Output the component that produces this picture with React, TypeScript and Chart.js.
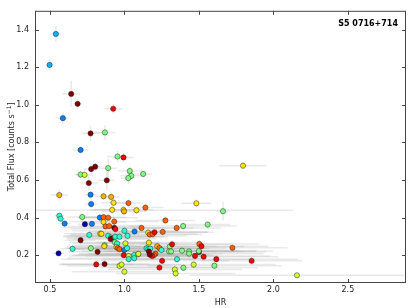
import React, { useEffect, useRef } from 'react';
import { Chart, registerables } from 'chart.js';
Chart.register(...registerables);

// hardness ratio, total flux, symmetric errors, and colour value (jet colormap 0..1)
const HR = [0.54,0.498,0.643,0.686,0.925,0.587,0.773,0.869,0.706,0.954,0.994,0.804,0.777,0.891,0.706,0.733,0.761,0.882,1.036,1.046,1.026,1.126,1.796,0.563,0.773,0.777,0.86,0.911,0.927,1.027,0.563,0.572,0.599,0.717,0.735,0.782,0.835,0.86,0.891,0.86,0.873,0.898,0.918,0.932,0.932,0.94,0.994,0.998,1.0,1.081,1.068,1.021,0.706,0.764,0.838,0.846,0.891,0.91,0.907,0.915,0.938,0.967,0.936,0.951,1.007,0.867,0.865,0.947,0.955,0.967,0.999,1.018,0.558,0.652,0.775,0.82,0.996,1.029,1.029,1.066,1.066,1.092,0.811,0.867,0.967,0.981,1.0,1.141,1.483,1.662,1.275,1.115,1.257,1.351,1.394,1.559,1.16,1.17,1.19,1.202,1.164,1.148,1.16,1.173,1.164,1.22,1.235,1.249,1.304,1.32,1.209,1.198,1.186,1.17,1.3,1.313,1.387,1.434,1.434,1.474,1.501,1.499,1.503,1.517,1.532,1.617,1.604,1.353,1.465,1.396,1.253,1.235,1.338,1.344,1.725,1.854,2.158,1.094];
const FLUX = [1.377,1.212,1.058,1.005,0.979,0.929,0.848,0.853,0.76,0.725,0.72,0.671,0.658,0.663,0.629,0.627,0.584,0.598,0.648,0.622,0.61,0.632,0.676,0.52,0.522,0.472,0.513,0.51,0.479,0.477,0.41,0.394,0.368,0.403,0.365,0.367,0.4,0.402,0.399,0.376,0.353,0.355,0.441,0.379,0.346,0.339,0.441,0.433,0.33,0.439,0.326,0.303,0.28,0.308,0.314,0.314,0.303,0.294,0.286,0.288,0.298,0.298,0.269,0.262,0.263,0.253,0.248,0.243,0.238,0.232,0.227,0.237,0.21,0.234,0.237,0.218,0.2,0.195,0.179,0.201,0.184,0.205,0.151,0.153,0.143,0.15,0.112,0.453,0.476,0.434,0.385,0.345,0.324,0.345,0.355,0.363,0.32,0.31,0.312,0.322,0.267,0.237,0.233,0.235,0.22,0.248,0.238,0.227,0.246,0.258,0.208,0.2,0.196,0.203,0.22,0.22,0.224,0.22,0.208,0.196,0.217,0.222,0.26,0.248,0.192,0.179,0.144,0.179,0.15,0.133,0.17,0.134,0.124,0.103,0.239,0.17,0.093,0.207];
const HR_ERR = [0.035,0.025,0.06,0.03,0.06,0.04,0.06,0.07,0.05,0.07,0.07,0.04,0.04,0.06,0.04,0.06,0.06,0.05,0.08,0.07,0.05,0.06,0.16,0.06,0.04,0.04,0.06,0.06,0.08,0.1,0.03,0.03,0.04,0.1,0.05,0.06,0.1,0.15,0.2,0.15,0.25,0.2,0.15,0.3,0.35,0.3,0.2,0.15,0.35,1.05,0.3,0.4,0.1,0.12,0.2,0.25,0.3,0.3,0.25,0.3,0.35,0.3,0.3,0.25,0.35,0.2,0.25,0.3,0.35,0.3,0.35,0.4,0.04,0.08,0.15,0.2,0.35,0.4,0.45,0.4,0.45,0.4,0.25,0.3,0.35,0.4,0.35,0.12,0.1,0.04,0.2,0.35,0.3,0.3,0.36,0.15,0.4,0.35,0.3,0.4,0.35,0.4,0.35,0.4,0.45,0.4,0.45,0.45,0.5,0.4,0.45,0.4,0.45,0.4,0.5,0.45,0.5,0.45,0.5,0.5,0.45,0.5,0.4,0.45,0.5,0.55,0.45,0.5,0.55,0.5,0.45,0.4,0.45,0.4,0.37,0.34,0.72,0.4];
const FLUX_ERR = [0.04,0.03,0.07,0.025,0.025,0.03,0.04,0.04,0.02,0.03,0.025,0.02,0.03,0.05,0.02,0.03,0.04,0.05,0.02,0.02,0.03,0.02,0.02,0.03,0.02,0.02,0.02,0.02,0.02,0.02,0.015,0.015,0.015,0.02,0.015,0.015,0.02,0.02,0.02,0.02,0.02,0.02,0.02,0.02,0.02,0.02,0.02,0.02,0.02,0.02,0.02,0.02,0.02,0.02,0.02,0.02,0.02,0.02,0.02,0.02,0.02,0.02,0.02,0.02,0.02,0.02,0.02,0.02,0.02,0.02,0.02,0.02,0.015,0.015,0.02,0.02,0.02,0.02,0.02,0.02,0.02,0.02,0.02,0.02,0.02,0.02,0.02,0.02,0.02,0.05,0.02,0.02,0.02,0.02,0.02,0.02,0.02,0.02,0.02,0.02,0.02,0.02,0.02,0.02,0.02,0.02,0.02,0.02,0.02,0.02,0.02,0.02,0.02,0.02,0.02,0.02,0.02,0.02,0.02,0.02,0.02,0.02,0.02,0.02,0.02,0.02,0.02,0.02,0.02,0.02,0.02,0.02,0.02,0.02,0.02,0.02,0.01,0.02];
const COLOR_VALUE = [0.3,0.3,1,1,0.88,0.25,1,0.5,0.25,0.5,0.88,1,1,0.5,0.5,0.58,1,1,0.5,0.5,0.5,0.5,0.65,0.7,0.25,0.25,0.7,0.7,0.65,0.78,0.42,0.42,0.25,0.5,0.05,0.25,0.25,0.78,0.78,0.65,0.78,0.78,0.65,0.78,1,0.88,0.65,0.7,0.42,0.65,0.25,0.42,1,0.42,0.65,0.65,0.42,0.5,0.88,1,0.42,0.42,0.5,0.42,0.58,0.5,0.65,0.65,0.78,0.78,0.25,0.42,0.05,0.42,0.5,1,0.88,0.58,0.42,0.42,0.42,0.58,0.88,1,0.58,0.58,0.58,0.78,0.65,0.5,0.78,0.78,0.78,0.78,0.5,0.5,0.65,0.78,0.78,0.88,0.65,0.42,0.42,0.42,1,0.7,0.78,0.42,0.5,0.88,0.78,0.78,0.88,1,0.5,0.5,0.5,0.5,0.5,0.88,1,0.5,0.78,0.88,0.88,0.88,0.5,0.42,0.58,0.5,0.88,0.88,0.58,0.58,0.78,0.88,0.58,0.58];

const X_TICKS = [0.5, 1.0, 1.5, 2.0, 2.5];
const Y_TICKS = [0.2, 0.4, 0.6, 0.8, 1.0, 1.2, 1.4];
const X_RANGE = [0.4, 2.89];
const Y_RANGE = [0.052, 1.5];
const TITLE = 'S5 0716+714';
const X_LABEL = 'HR';
const Y_LABEL = 'Total Flux [counts s';
const Y_LABEL_SUP = '\u22121';
const Y_LABEL_END = ']';

function jet(v: number): string {
  const clip = (t: number) => Math.max(0, Math.min(1, t));
  const r = clip(1.5 - Math.abs(4 * v - 3));
  const g = clip(1.5 - Math.abs(4 * v - 2));
  const b = clip(1.5 - Math.abs(4 * v - 1));
  return `rgb(${Math.round(r * 255)},${Math.round(g * 255)},${Math.round(b * 255)})`;
}

const FONT = '"DejaVu Sans", sans-serif';

export default function App() {
  const ref = useRef<HTMLCanvasElement>(null);
  useEffect(() => {
    document.body.style.margin = '0';
    const canvas = ref.current!;
    const errorBars = {
      id: 'errorBars',
      beforeDatasetsDraw(chart: any) {
        const { ctx, chartArea, scales } = chart;
        const xs = scales.x, ys = scales.y;
        ctx.save();
        ctx.beginPath();
        ctx.rect(chartArea.left, chartArea.top, chartArea.right - chartArea.left, chartArea.bottom - chartArea.top);
        ctx.clip();
        ctx.strokeStyle = 'rgba(170,170,170,0.26)';
        ctx.lineWidth = 1.5;
        for (let i = 0; i < HR.length; i++) {
          const px = xs.getPixelForValue(HR[i]);
          const py = ys.getPixelForValue(FLUX[i]);
          ctx.beginPath();
          ctx.moveTo(xs.getPixelForValue(HR[i] - HR_ERR[i]), py);
          ctx.lineTo(xs.getPixelForValue(HR[i] + HR_ERR[i]), py);
          ctx.moveTo(px, ys.getPixelForValue(FLUX[i] - FLUX_ERR[i]));
          ctx.lineTo(px, ys.getPixelForValue(FLUX[i] + FLUX_ERR[i]));
          ctx.stroke();
        }
        ctx.restore();
      },
    };
    const frame = {
      id: 'frame',
      afterDraw(chart: any) {
        const { ctx, chartArea, scales } = chart;
        const { left, right, top, bottom } = chartArea;
        ctx.save();
        ctx.strokeStyle = '#444';
        ctx.lineWidth = 1;
        ctx.strokeRect(left + 0.5, top + 0.5, right - left - 1, bottom - top - 1);
        ctx.beginPath();
        for (const v of X_TICKS) {
          const x = Math.round(scales.x.getPixelForValue(v)) + 0.5;
          ctx.moveTo(x, bottom); ctx.lineTo(x, bottom - 4);
          ctx.moveTo(x, top); ctx.lineTo(x, top + 4);
        }
        for (const v of Y_TICKS) {
          const y = Math.round(scales.y.getPixelForValue(v)) + 0.5;
          ctx.moveTo(left, y); ctx.lineTo(left + 4, y);
          ctx.moveTo(right, y); ctx.lineTo(right - 4, y);
        }
        ctx.stroke();
        // title in top-right
        ctx.fillStyle = '#000';
        ctx.font = `bold 8px ${FONT}`;
        ctx.textAlign = 'right';
        ctx.textBaseline = 'alphabetic';
        ctx.fillText(TITLE, right - 8, top + 15);
        // x label
        ctx.font = `8px ${FONT}`;
        ctx.textAlign = 'center';
        ctx.fillStyle = '#222';
        ctx.fillText(X_LABEL, (left + right) / 2, 305);
        // y label rotated
        ctx.translate(14, (top + bottom) / 2);
        ctx.rotate(-Math.PI / 2);
        ctx.textAlign = 'left';
        const w1 = ctx.measureText(Y_LABEL).width;
        ctx.font = `6px ${FONT}`;
        const w2 = ctx.measureText(Y_LABEL_SUP).width;
        ctx.font = `8px ${FONT}`;
        const w3 = ctx.measureText(Y_LABEL_END).width;
        const start = -(w1 + w2 + w3) / 2;
        ctx.fillText(Y_LABEL, start, 0);
        ctx.font = `6px ${FONT}`;
        ctx.fillText(Y_LABEL_SUP, start + w1, -3.5);
        ctx.font = `8px ${FONT}`;
        ctx.fillText(Y_LABEL_END, start + w1 + w2, 0);
        ctx.restore();
      },
    };
    const chart = new Chart(canvas, {
      type: 'scatter',
      data: {
        datasets: [
          {
            data: HR.map((x, i) => ({ x, y: FLUX[i] })),
            pointBackgroundColor: COLOR_VALUE.map(jet),
            pointBorderColor: 'rgba(30,30,30,0.8)',
            pointBorderWidth: 0.6,
            pointRadius: 2.6,
            pointHoverRadius: 2.6,
          },
        ],
      },
      options: {
        responsive: false,
        animation: false,
        events: [],
        layout: { padding: { top: 3, right: 5, left: 0, bottom: 0 } },
        plugins: { legend: { display: false }, tooltip: { enabled: false } },
        scales: {
          x: {
            type: 'linear',
            min: X_RANGE[0],
            max: X_RANGE[1],
            grid: { display: false, drawTicks: false },
            border: { display: false },
            afterBuildTicks: (s: any) => { s.ticks = X_TICKS.map((v) => ({ value: v })); },
            afterFit: (s: any) => { s.height = 25; },
            ticks: {
              padding: 2,
              maxRotation: 0,
              autoSkip: false,
              color: '#222',
              font: { family: FONT, size: 8 },
              callback: (v: any) => Number(v).toFixed(1),
            },
          },
          y: {
            type: 'linear',
            min: Y_RANGE[0],
            max: Y_RANGE[1],
            grid: { display: false, drawTicks: false },
            border: { display: false },
            afterBuildTicks: (s: any) => { s.ticks = Y_TICKS.map((v) => ({ value: v })); },
            afterFit: (s: any) => { s.width = 35; },
            ticks: {
              padding: 6,
              autoSkip: false,
              color: '#222',
              font: { family: FONT, size: 8 },
              callback: (v: any) => Number(v).toFixed(1),
            },
          },
        },
      },
      plugins: [errorBars, frame],
    });
    return () => chart.destroy();
  }, []);
  return (
    <div style={{ width: 411, height: 308, background: '#fff' }}>
      <canvas ref={ref} width={411} height={308} style={{ display: 'block' }} />
    </div>
  );
}
